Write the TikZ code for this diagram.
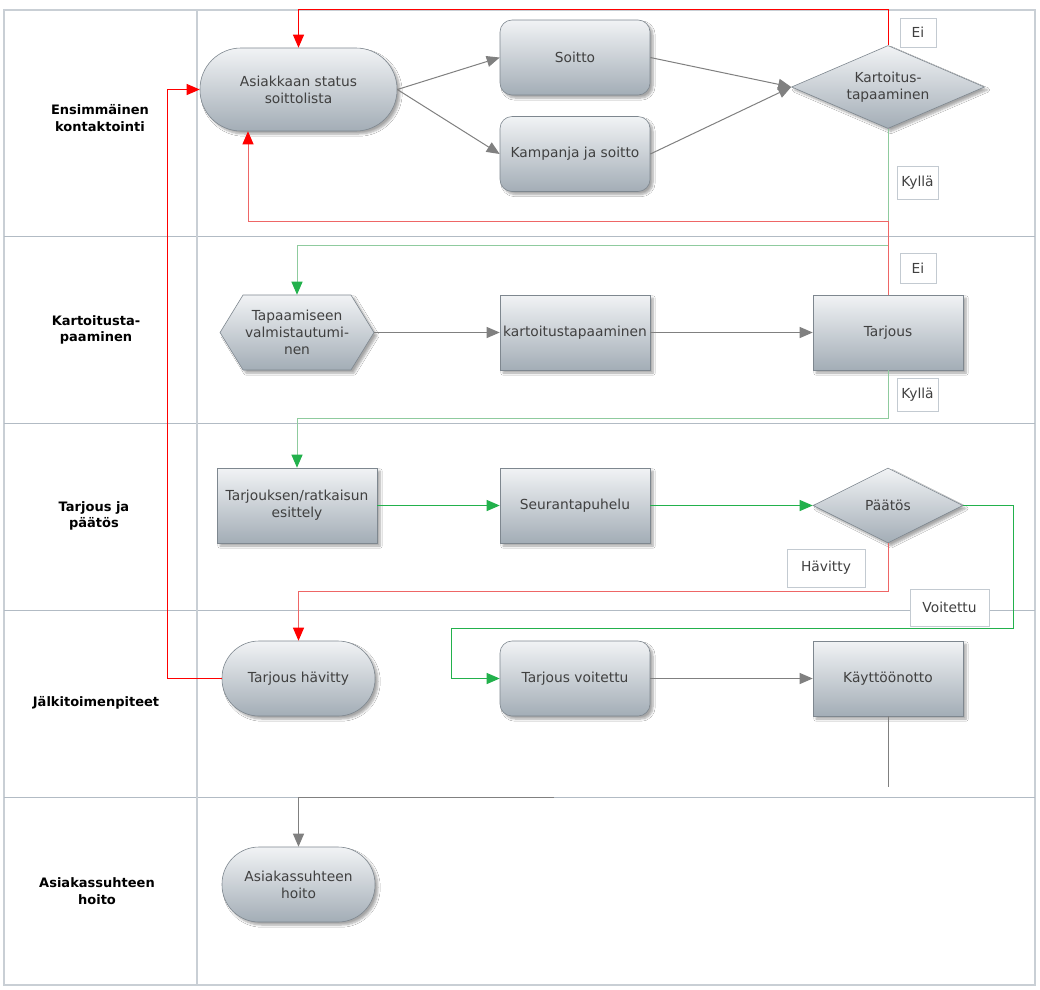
\documentclass[tikz,border=0pt]{standalone}
\usepackage{fontspec}
\setmainfont{DejaVu Sans}
\usetikzlibrary{shapes.geometric,shapes.symbols,arrows.meta,shadows.blur,calc}
\definecolor{frame}{HTML}{C9CFD5}
\definecolor{lane}{HTML}{B2BBC4}
\definecolor{ntext}{HTML}{404040}
\definecolor{ntop}{HTML}{F1F3F5}
\definecolor{nbot}{HTML}{A3ADB6}
\definecolor{nborder}{HTML}{7E878F}
\definecolor{garrow}{HTML}{808080}
\definecolor{gline}{HTML}{22B14C}
\definecolor{glight}{HTML}{8FCB9E}
\definecolor{rline}{HTML}{FF0000}
\definecolor{rlight}{HTML}{EE6666}
\definecolor{lbox}{HTML}{C3CAD1}
\begin{document}
\begin{tikzpicture}[x=1pt,y=-1pt,
  every node/.style={font=\fontsize{13.8}{17}\selectfont, align=center, text=ntext},
  box/.style={draw=nborder, line width=0.6pt, top color=ntop, bottom color=nbot,
    blur shadow={shadow xshift=3pt, shadow yshift=-3pt, shadow opacity=35, shadow blur steps=6},
    minimum width=150pt, minimum height=75pt, inner sep=2pt},
  stadium/.style={box, rounded corners=37pt},
  rbox/.style={box, rounded corners=12pt},
  hexa/.style={box, signal, signal to=west and east, signal pointer angle=117},
  dia/.style={box, diamond, inner sep=0pt},
  lanelabel/.style={font=\fontsize{13}{16.5}\selectfont\bfseries, text=black},
  elabel/.style={draw=lbox, fill=white, line width=1pt, inner sep=0pt, text=ntext},
  garr/.style={draw=garrow, line width=1pt, -{Triangle[length=13pt,width=11pt]}},
  garrg/.style={draw=gline, line width=1pt, -{Triangle[length=13pt,width=11pt]}},
  garrl/.style={draw=glight, line width=1pt, -{Triangle[length=13pt,width=11pt,color=gline]}},
  rarr/.style={draw=rline, line width=1pt, -{Triangle[length=13pt,width=11pt]}},
  rarrl/.style={draw=rlight, line width=1pt, -{Triangle[length=13pt,width=11pt,color=rline]}},
]
\useasboundingbox (0,0) rectangle (1040,989);
\fill[white] (0,0) rectangle (1040,989);

% swimlane frame
\draw[frame, line width=1.5pt] (4,10) rectangle (1035,985);
\foreach \yy in {236,423,610,797} \draw[lane, line width=1pt] (4,\yy) -- (1035,\yy);
\draw[frame, line width=1.2pt] (197,10) -- (197,985);

% lane labels
\node[lanelabel] (l1) at (100,118) {Ensimmäinen\\kontaktointi};
\node[lanelabel] (l2) at (96,330) {Kartoitusta-\\paaminen};
\node[lanelabel] (l3) at (94,516) {Tarjous ja\\päätös};
\node[lanelabel] (l4) at (96,703) {Jälkitoimenpiteet};
\node[lanelabel] (l5) at (97,891) {Asiakassuhteen\\hoito};

% nodes
\node[stadium, minimum width=197pt, minimum height=83pt, rounded corners=41pt] (asi) at (298.5,89.5) {Asiakkaan status\\soittolista};
\node[rbox] (soitto) at (575,57.5) {Soitto};
\node[rbox] (kamp) at (575,154) {Kampanja ja soitto};
\node[dia, aspect=2.33, minimum width=193pt, minimum height=83pt] (kart) at (888,87) {Kartoitus-\\tapaaminen};
\node[hexa, minimum width=145pt] (hex) at (297,332.5) {Tapaamiseen\\valmistautumi-\\nen};
\node[box] (ktap) at (575,332.5) {kartoitustapaaminen};
\node[box] (tarj) at (888,332.5) {Tarjous};
\node[box, minimum width=160pt] (esit) at (297,505.5) {Tarjouksen/ratkaisun\\esittely};
\node[box] (seur) at (575,505.5) {Seurantapuhelu};
\node[dia, aspect=2, minimum width=150pt, minimum height=75pt] (paat) at (888,505.5) {Päätös};
\node[stadium, minimum width=153pt] (hav) at (298.5,678.5) {Tarjous hävitty};
\node[rbox] (voit) at (575,678.5) {Tarjous voitettu};
\node[box] (kayt) at (888,678.5) {Käyttöönotto};
\node[stadium, minimum width=153pt] (hoito) at (298.5,884.5) {Asiakassuhteen\\hoito};

% route coordinates
\coordinate (ytop) at (0,9);
\coordinate (yr1) at (0,221);
\coordinate (xr1) at (248,0);
\coordinate (yg1) at (0,245);
\coordinate (yg2) at (0,418);
\coordinate (yr2) at (0,591);
\coordinate (g3) at (1013,628);
\coordinate (xg3) at (451,0);
\coordinate (xr3) at (167,0);
\coordinate (kend) at (888,787);
\coordinate (bstart) at (554,797);

% connectors
\draw[garr] (asi.east) -- (soitto.west);
\draw[garr] (asi.east) -- (kamp.west);
\draw[garr] (soitto.east) -- (kart.west);
\draw[garr] (kamp.east) -- (kart.west);
\draw[rarr] (kart.north) -- (kart.north |- ytop) -| (asi.north);
\draw[garrl] (kart.south) -- (kart.south |- yg1) -| (hex.north);
\draw[rarrl] (tarj.north) -- (tarj.north |- yr1) -| (asi.south -| xr1);
\draw[garr] (hex.east) -- (ktap.west);
\draw[garr] (ktap.east) -- (tarj.west);
\draw[garrl] (tarj.south) -- (tarj.south |- yg2) -| (esit.north);
\draw[garrg] (esit.east) -- (seur.west);
\draw[garrg] (seur.east) -- (paat.west);
\draw[rarrl] (paat.south) -- (paat.south |- yr2) -| (hav.north);
\draw[garrg] (paat.east) -| (g3) -- (g3 -| xg3) |- (voit.west);
\draw[rarr] (hav.west) -- (hav.west -| xr3) |- (asi.west);
\draw[garr] (voit.east) -- (kayt.west);
\draw[draw=garrow, line width=1pt] (kayt.south) -- (kend);
\draw[garr] (bstart) -| (hoito.north);

% edge labels
\node[elabel, minimum width=36pt, minimum height=29pt] (ei1) at (918,32.5) {Ei};
\node[elabel, minimum width=41pt, minimum height=33pt] (ky1) at (917.5,182.5) {Kyllä};
\node[elabel, minimum width=36pt, minimum height=30pt] (ei2) at (918,268) {Ei};
\node[elabel, minimum width=41pt, minimum height=33pt] (ky2) at (917.5,394.5) {Kyllä};
\node[elabel, minimum width=78pt, minimum height=38pt] (havl) at (826,568) {Hävitty};
\node[elabel, minimum width=79pt, minimum height=37pt] (voil) at (949.5,607.5) {Voitettu};
\end{tikzpicture}
\end{document}
